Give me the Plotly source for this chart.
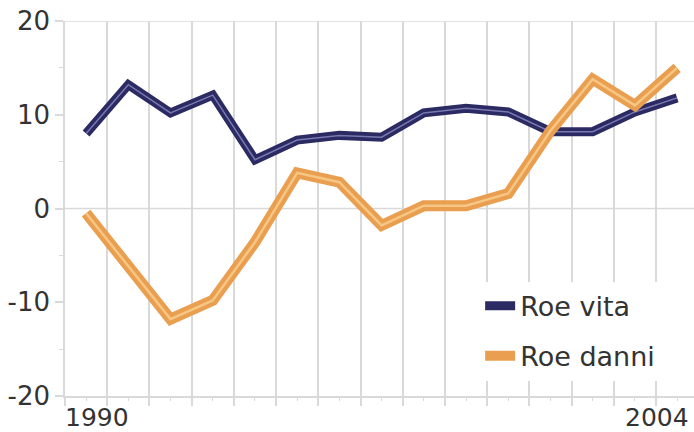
import plotly.graph_objects as go

years = list(range(1990, 2005))
roe_vita = [8.0, 13.2, 10.2, 12.1, 5.2, 7.3, 7.8, 7.6, 10.2, 10.7, 10.3, 8.2, 8.2, 10.3, 11.8]
roe_danni = [-0.5, -6.2, -11.8, -9.8, -3.6, 3.8, 2.8, -1.8, 0.3, 0.3, 1.6, 8.3, 13.8, 11.0, 15.0]
x_tick_years = [1990, 2004]
x_tick_labels = ["1990", "2004"]
x_label_shift = [11, -20]
y_tick_vals = [-20, -10, 0, 10, 20]
y_tick_labels = ["-20", "-10", "0", "10", "20"]

NAVY = "#2c2a62"
NAVY_HI = "#7a78b0"
ORANGE = "#e99f4f"
ORANGE_HI = "#f6c684"
GRID = "#d9d9d9"
TXT = "#333333"
FONT = "DejaVu Sans"

fig = go.Figure()

fig.add_trace(go.Scatter(x=years, y=roe_vita, mode="lines", name="Roe vita",
                         line=dict(color=NAVY, width=9), legendgroup="a"))
fig.add_trace(go.Scatter(x=years, y=roe_vita, mode="lines", showlegend=False,
                         line=dict(color=NAVY_HI, width=1.5), hoverinfo="skip"))
fig.add_trace(go.Scatter(x=years, y=roe_danni, mode="lines", name="Roe danni",
                         line=dict(color=ORANGE, width=11), legendgroup="b"))
fig.add_trace(go.Scatter(x=years, y=roe_danni, mode="lines", showlegend=False,
                         line=dict(color=ORANGE_HI, width=2.5), hoverinfo="skip"))

for yr, lab, sh in zip(x_tick_years, x_tick_labels, x_label_shift):
    fig.add_annotation(x=yr, xref="x", y=0, yref="paper", yanchor="middle",
                       text=lab, showarrow=False, xshift=sh, yshift=-21,
                       borderpad=0,
                       font=dict(family=FONT, size=25, color=TXT))

for yv in [0, 20]:
    fig.add_shape(type="line", xref="paper", x0=0, x1=1, yref="y", y0=yv, y1=yv,
                  line=dict(color=GRID, width=1.5), layer="below")

fig.update_layout(
    width=694, height=432,
    margin=dict(l=65, r=0, t=21, b=36),
    paper_bgcolor="white", plot_bgcolor="white",
    font=dict(family=FONT, color=TXT),
    showlegend=True,
    legend=dict(x=0.66, xanchor="left", y=0.305, yanchor="top",
                bgcolor="white", font=dict(family=FONT, size=27, color=TXT),
                traceorder="grouped", tracegroupgap=12),
    xaxis=dict(range=[1989.5, 2004.4], tick0=1989.5, dtick=1,
               showgrid=True, gridcolor=GRID, gridwidth=1.5,
               ticks="outside", ticklen=8, tickcolor=GRID, tickwidth=1.5,
               showticklabels=False, showline=True, linecolor=GRID, linewidth=1.5,
               zeroline=False,
               minor=dict(tick0=1990, dtick=1, ticks="outside", ticklen=3,
                          tickcolor=GRID, tickwidth=1, showgrid=False)),
    yaxis=dict(range=[-20, 20], tickvals=y_tick_vals, ticktext=y_tick_labels,
               showgrid=False,
               ticks="outside", ticklen=8, tickcolor=GRID, tickwidth=1.5,
               showline=True, linecolor=GRID, linewidth=1.5, zeroline=False,
               tickfont=dict(family=FONT, size=26, color=TXT),
               minor=dict(dtick=5, ticks="outside", ticklen=4,
                          tickcolor=GRID, tickwidth=1, showgrid=False)),
)

fig.write_html("out.html")
